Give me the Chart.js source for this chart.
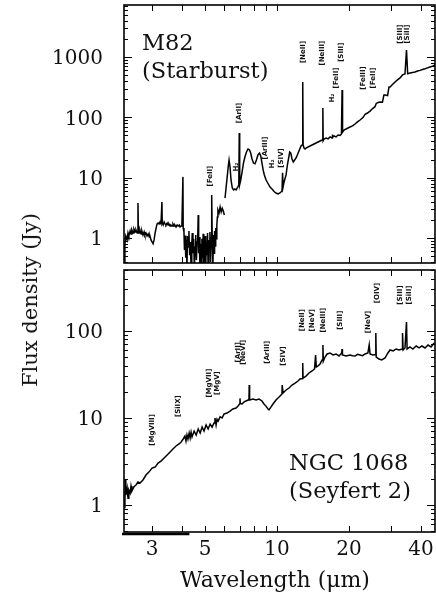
<!DOCTYPE html>
<html>
<head>
<meta charset="utf-8">
<script src="https://cdn.jsdelivr.net/npm/chart.js@4.4.0/dist/chart.umd.min.js"></script>
<style>
  body { margin: 0; background: #fff; }
  #wrap { position: relative; width: 436px; height: 607px; overflow: hidden; }
  canvas { position: absolute; left: 0; }
  #topChart { top: 0; }
  #bottomChart { top: 265px; }
  #ytitle {
    position: absolute; left: 30px; top: 300px;
    transform: translate(-50%, -50%) rotate(-90deg);
    font: 21px "DejaVu Serif"; color: #111; white-space: nowrap;
  }
</style>
</head>
<body>
<div id="wrap">
  <canvas id="topChart" width="436" height="268"></canvas>
  <canvas id="bottomChart" width="436" height="342"></canvas>
  <div id="ytitle">Flux density (Jy)</div>
</div>
<script>
// M82 spectrum (wavelength in micron, flux density in Jy), null = gap between segments
const m82Wave = [
  2.30, 2.31, 2.33, 2.36, 2.38, 2.40, 2.43, 2.45, 2.47, 2.50, 2.52, 2.55, 2.57, 2.60, 2.62, 2.63,
  2.65, 2.67, 2.70, 2.72, 2.75, 2.78, 2.80, 2.83, 2.86, 2.89, 2.92, 2.94, 2.97, 3.00, 3.03, 3.06,
  3.09, 3.12, 3.15, 3.18, 3.21, 3.24, 3.27, 3.30, 3.31, 3.34, 3.37, 3.40, 3.43, 3.47, 3.50, 3.53,
  3.57, 3.60, 3.64, 3.67, 3.71, 3.74, 3.78, 3.82, 3.86, 3.90, 3.93, 3.97, 4.00, 4.04, 4.05,
  4.08, 4.10, 4.13, 4.15, 4.18, 4.20, 4.22, 4.25, 4.28, 4.31, 4.34, 4.37, 4.40, 4.42, 4.45, 4.48,
  4.51, 4.54, 4.57, 4.60, 4.63, 4.66, 4.68, 4.70, 4.73, 4.76, 4.79, 4.82, 4.85, 4.88, 4.91, 4.94,
  4.97, 5.00, 5.03, 5.06, 5.09, 5.12, 5.15, 5.18, 5.21, 5.24, 5.27, 5.30, 5.32, 5.34, 5.36, 5.39,
  5.42, 5.45, 5.48, 5.51, 5.54, 5.57, 5.60, 5.63, 5.66, 5.72, 5.78, 5.84, 5.90, 5.96, 6.02,
  6.04,
  6.06, 6.12, 6.20, 6.26, 6.30, 6.36, 6.42, 6.50, 6.58, 6.66, 6.74, 6.82, 6.92, 6.95, 6.98, 7.05,
  7.14, 7.24, 7.34, 7.45, 7.56, 7.66, 7.76, 7.86, 7.97, 8.09, 8.20, 8.32, 8.45, 8.55, 8.65, 8.75,
  8.85, 9.00, 9.17, 9.35, 9.53, 9.72, 9.90, 10.10, 10.29, 10.49, 10.55, 10.60, 10.70, 10.91, 11.05, 11.20,
  11.30, 11.42, 11.55, 11.70, 11.85, 12.01, 12.20, 12.40, 12.60, 12.76, 12.81, 12.86, 12.97, 13.10, 13.22, 13.48,
  13.74, 14.01, 14.29, 14.56, 14.85, 15.14, 15.43, 15.55, 15.60, 15.73, 16.04, 16.35, 16.67, 16.99, 17.03, 17.10,
  17.32, 17.66, 18.00, 18.35, 18.60, 18.71, 18.80, 19.07, 19.44, 19.82, 20.21, 20.70, 21.20, 21.70, 22.25, 22.93,
  23.35, 23.90, 24.50, 25.10, 25.70, 26.00, 26.50, 26.98, 27.60, 28.00, 28.31, 29.00, 29.40, 29.71, 30.40, 31.17,
  31.90, 32.71, 33.48, 34.30, 34.80, 35.20, 36.02, 36.90, 37.80, 38.70, 39.66, 40.60, 41.62, 42.60, 43.67, 44.70, 45.83
];
const m82Flux = [
  0.40, 0.77, 1.08, 0.93, 1.21, 1.08, 1.31, 1.17, 1.36, 1.21, 1.41, 1.26, 1.36, 1.21, 3.80, 1.31,
  1.21, 1.36, 1.17, 1.31, 1.12, 1.26, 1.12, 1.21, 1.08, 1.17, 1.04, 1.08, 0.93, 0.86, 0.80, 0.93,
  1.21, 1.46, 1.71, 1.77, 1.71, 1.84, 1.71, 3.95, 1.77, 1.64, 1.84, 1.71, 1.64, 1.77, 1.64, 1.71,
  1.58, 1.64, 1.58, 1.71, 1.58, 1.64, 1.52, 1.64, 1.58, 1.64, 1.52, 1.58, 1.64, 10.3, 1.46,
  1.26, 0.63, 1.10, 0.47, 0.93, 0.30, 1.08, 0.71, 1.31, 0.52, 0.86, 0.30, 0.80, 1.21, 0.56, 0.97,
  0.30, 0.71, 1.12, 0.43, 0.86, 1.04, 2.40, 0.56, 1.04, 0.30, 0.80, 0.30, 0.97, 0.47, 1.17, 0.30,
  0.74, 1.08, 0.30, 0.86, 0.52, 1.21, 0.30, 0.93, 0.63, 1.26, 0.40, 1.04, 0.71, 5.16, 0.86, 0.30,
  1.12, 0.56, 1.31, 0.74, 1.46, 0.97, 1.64, 2.23, 2.91, 2.60, 3.26, 2.70, 3.10, 2.80, 2.40,
  null,
  4.60, 6.74, 11.1, 16.2, 19.6, 15.0, 9.15, 6.74, 6.25, 6.50, 6.25, 6.74, 7.56, 55.0, 7.70, 9.15,
  12.4, 17.5, 22.0, 26.6, 29.9, 29.0, 25.6, 20.4, 17.5, 17.0, 19.6, 23.8, 25.6, 23.0, 17.5, 13.4,
  11.1, 9.15, 8.00, 7.00, 6.50, 5.90, 5.57, 5.36, 5.57, 6.00, 12.0, 7.00, 8.47, 11.1, 16.2, 22.0,
  26.6, 25.6, 20.4, 18.2, 19.6, 21.2, 24.5, 28.7, 33.5, 35.0, 385, 34.8, 31.0, 29.9, 31.0, 32.2,
  33.5, 34.8, 36.2, 37.6, 39.0, 40.5, 42.1, 143, 41.0, 43.8, 45.5, 44.0, 47.3, 45.5, 52.0, 46.5,
  49.1, 47.3, 51.0, 50.0, 53.0, 284, 57.0, 61.7, 64.0, 66.6, 69.3, 72.0, 77.6, 84.0, 90.3, 100,
  112, 118, 127, 140, 150, 170, 176, 180, 178, 234, 234, 230, 318, 318, 350, 385,
  418, 450, 505, 523, 1307, 530, 545, 555, 566, 585, 600, 622, 640, 660, 683, 705, 738
];

// NGC 1068 spectrum
const ngcWave = [
  2.31, 2.315, 2.33, 2.36, 2.38, 2.40, 2.43, 2.45, 2.47, 2.52, 2.57, 2.62, 2.67, 2.75, 2.83, 2.91,
  3.00, 3.09, 3.18, 3.27, 3.37, 3.47, 3.57, 3.67, 3.78, 3.89, 3.97, 4.05, 4.12, 4.16, 4.20, 4.24,
  4.29, 4.33, 4.37, 4.41, 4.50, 4.59, 4.68, 4.77, 4.86, 4.95, 5.05, 5.15, 5.25, 5.35, 5.45, 5.50,
  5.56, 5.61, 5.67, 5.78, 5.89, 6.00, 6.18, 6.36, 6.54, 6.74, 6.87, 6.98, 7.00, 7.02, 7.14, 7.28,
  7.42, 7.56, 7.63, 7.65, 7.68, 7.93, 8.17, 8.41, 8.65, 8.82, 8.99, 9.17, 9.26, 9.44, 9.62, 9.90,
  10.2, 10.49, 10.51, 10.60, 10.91, 11.23, 11.55, 11.90, 12.24, 12.48, 12.78, 12.81, 12.85, 13.22, 13.61, 14.01,
  14.35, 14.50, 14.60, 14.85, 15.14, 15.43, 15.56, 15.62, 15.88, 16.2, 16.67, 17.15, 17.66, 18.17, 18.65, 18.71,
  18.78, 19.44, 20.21, 20.70, 21.2, 21.7, 22.25, 22.8, 23.35, 24.0, 24.3, 24.5, 25.2, 25.85, 25.9, 26.0,
  26.7, 27.4, 28.3, 29.1, 29.7, 30.6, 31.5, 32.4, 33.4, 33.5, 33.7, 34.3, 34.8, 35.0, 36.0, 37.0,
  38.2, 39.3, 40.4, 41.6, 42.8, 44.1, 45.4
];
const ngcFlux = [
  0.92, 1.94, 1.30, 1.57, 1.20, 1.49, 1.37, 1.65, 1.45, 1.62, 1.70, 1.84, 1.79, 1.94, 2.21, 2.39,
  2.66, 2.73, 3.04, 3.20, 3.47, 3.76, 4.06, 4.40, 4.77, 5.03, 5.30, 5.74, 6.21, 5.44, 6.38, 5.74,
  6.72, 5.89, 6.88, 6.05, 7.07, 6.38, 7.47, 6.72, 7.86, 7.07, 8.31, 7.47, 8.53, 7.86, 8.77, 10.0,
  8.31, 9.70, 9.20, 10.3, 10.0, 11.1, 11.4, 12.0, 12.7, 13.0, 13.7, 14.6, 16.8, 14.7, 14.5, 15.3,
  15.7, 16.1, 16.1, 23.9, 16.1, 16.5, 16.1, 16.5, 15.7, 14.5, 13.7, 12.7, 12.4, 13.4, 14.5, 16.1,
  17.4, 18.9, 23.9, 19.4, 21.0, 22.1, 23.9, 25.2, 26.6, 28.1, 28.5, 42.9, 28.8, 30.3, 32.9, 34.7,
  36.6, 53.0, 38.6, 39.8, 41.8, 46.4, 69.0, 45.0, 50.2, 54.4, 55.9, 53.0, 54.4, 51.6, 56.0, 62.0,
  53.0, 51.6, 53.0, 52.0, 51.6, 54.0, 53.0, 52.0, 54.4, 55.9, 69.0, 54.4, 53.0, 53.5, 94.8, 50.2,
  47.6, 46.4, 48.9, 55.9, 60.5, 58.9, 62.1, 60.5, 62.1, 94.8, 60.5, 63.8, 127, 62.1, 65.5, 62.1,
  67.2, 63.8, 67.2, 63.8, 69.0, 65.5, 72.7
];

// axes
const xRange = [2.29, 45.8];
const topYRange = [0.385, 7280];
const bottomYRange = [0.49, 502];
const xTickMarks = [3, 4, 5, 6, 7, 8, 9, 10, 20, 30, 40];
const xTickLabels = [3, 5, 10, 20, 40];
const topYTicks = [1, 10, 100, 1000];
const bottomYTicks = [1, 10, 100];

// line identifications: name, wavelength, flux level of label centre
const topLineNames = ['[FeII]', 'H\u2082', '[ArII]', '[ArIII]', 'H\u2082', '[SIV]', '[NeII]', '[NeIII]',
  'H\u2082', '[FeII]', '[SIII]', '[FeIII]', '[FeII]', '[SIII]', '[SiII]'];
const topLineWave = [5.25, 6.74, 6.93, 8.91, 9.57, 10.39, 12.85, 15.43, 17.0, 17.7, 18.6, 22.9, 25.2, 32.9, 35.2];
const topLineFlux = [10.6, 15.0, 118, 31, 16.9, 21.2, 1210, 1160, 209, 449, 1200, 449, 449, 2400, 2400];

const bottomLineNames = ['[MgVIII]', '[SiIX]', '[MgVII]', '[MgV]', '[ArII]', '[NeVI]', '[ArIII]', '[SIV]',
  '[NeII]', '[NeV]', '[NeIII]', '[SIII]', '[NeV]', '[OIV]', '[SIII]', '[SiII]'];
const bottomLineWave = [3.0, 3.86, 5.2, 5.6, 6.87, 7.2, 9.08, 10.6, 12.72, 14.0, 15.6, 18.35, 24.0, 26.2, 32.9, 35.6];
const bottomLineFlux = [7.3, 13.7, 25.2, 25.2, 57, 57, 57, 51.6, 133, 133, 133, 133, 127, 273, 259, 259];

function logTicks(min, max) {
  const out = [];
  for (let e = Math.floor(Math.log10(min)); e <= Math.ceil(Math.log10(max)); e++) {
    for (let k = 1; k < 10; k++) {
      const v = k * Math.pow(10, e);
      if (v >= min && v <= max) out.push({ v: v, major: k === 1 });
    }
  }
  return out;
}

const framePlugin = {
  id: 'frame',
  afterDraw(chart, args, opts) {
    const ctx = chart.ctx;
    const a = chart.chartArea;
    const xs = chart.scales.x, ys = chart.scales.y;
    ctx.save();
    ctx.strokeStyle = '#000';
    ctx.fillStyle = '#111';

    // inward tick marks
    ctx.lineWidth = 1;
    ctx.beginPath();
    for (const v of xTickMarks) {
      const px = Math.round(xs.getPixelForValue(v)) + 0.5;
      ctx.moveTo(px, a.top); ctx.lineTo(px, a.top + 6);
      ctx.moveTo(px, a.bottom); ctx.lineTo(px, a.bottom - 6);
    }
    for (const t of logTicks(ys.min, ys.max)) {
      const py = Math.round(ys.getPixelForValue(t.v)) + 0.5;
      const len = t.major ? 8 : 4;
      ctx.moveTo(a.left, py); ctx.lineTo(a.left + len, py);
      ctx.moveTo(a.right, py); ctx.lineTo(a.right - len, py);
    }
    ctx.stroke();

    // frame
    ctx.lineWidth = 1.6;
    ctx.strokeRect(a.left, a.top, a.right - a.left, a.bottom - a.top);

    // y tick labels
    ctx.font = '20px "DejaVu Serif"';
    ctx.textAlign = 'right';
    ctx.textBaseline = 'middle';
    for (const v of opts.yLabels) {
      ctx.fillText(String(v), a.left - 21, ys.getPixelForValue(v) + 2);
    }

    // x tick labels and axis title (bottom panel only)
    if (opts.xAxis) {
      ctx.lineWidth = 2.5;
      ctx.beginPath();
      ctx.moveTo(a.left - 2, a.bottom + 2); ctx.lineTo(xs.getPixelForValue(4.3), a.bottom + 2);
      ctx.stroke();
      ctx.textAlign = 'center';
      for (const v of xTickLabels) {
        ctx.fillText(String(v), xs.getPixelForValue(v), a.bottom + 18);
      }
      ctx.font = '22px "DejaVu Serif"';
      ctx.fillText('Wavelength (\u03bcm)', 275, a.bottom + 49);
    }

    // panel name
    ctx.font = '22.5px "DejaVu Serif"';
    ctx.textAlign = 'left';
    ctx.textBaseline = 'alphabetic';
    opts.text.forEach((s, i) => ctx.fillText(s, opts.textX, a.top + opts.textY + i * 28));

    // line identifications
    ctx.font = 'bold 7px "DejaVu Sans"';
    ctx.textAlign = 'center';
    ctx.textBaseline = 'middle';
    opts.names.forEach((n, i) => {
      ctx.save();
      ctx.translate(xs.getPixelForValue(opts.waves[i]), ys.getPixelForValue(opts.fluxes[i]));
      ctx.rotate(-Math.PI / 2);
      ctx.fillText(n, 0, 0);
      ctx.restore();
    });
    ctx.restore();
  }
};

function makeChart(id, wave, flux, yRange, padBottom, frame) {
  return new Chart(document.getElementById(id), {
    type: 'line',
    data: {
      datasets: [{
        data: wave.map((w, i) => ({ x: w, y: flux[i] })),
        borderColor: '#000',
        borderWidth: 1.5,
        pointRadius: 0,
        fill: false,
        tension: 0,
        spanGaps: false
      }]
    },
    options: {
      responsive: false,
      animation: false,
      events: [],
      layout: { padding: { left: 124, right: 1, top: 5, bottom: padBottom } },
      scales: {
        x: { type: 'logarithmic', display: false, min: xRange[0], max: xRange[1] },
        y: { type: 'logarithmic', display: false, min: yRange[0], max: yRange[1] }
      },
      plugins: { legend: { display: false }, tooltip: { enabled: false }, frame: frame }
    },
    plugins: [framePlugin]
  });
}

makeChart('topChart', m82Wave, m82Flux, topYRange, 5, {
  yLabels: topYTicks, xAxis: false,
  text: ['M82', '(Starburst)'], textX: 142, textY: 45,
  names: topLineNames, waves: topLineWave, fluxes: topLineFlux
});
makeChart('bottomChart', ngcWave, ngcFlux, bottomYRange, 75, {
  yLabels: bottomYTicks, xAxis: true,
  text: ['NGC 1068', '(Seyfert 2)'], textX: 289, textY: 200,
  names: bottomLineNames, waves: bottomLineWave, fluxes: bottomLineFlux
});
</script>
</body>
</html>
